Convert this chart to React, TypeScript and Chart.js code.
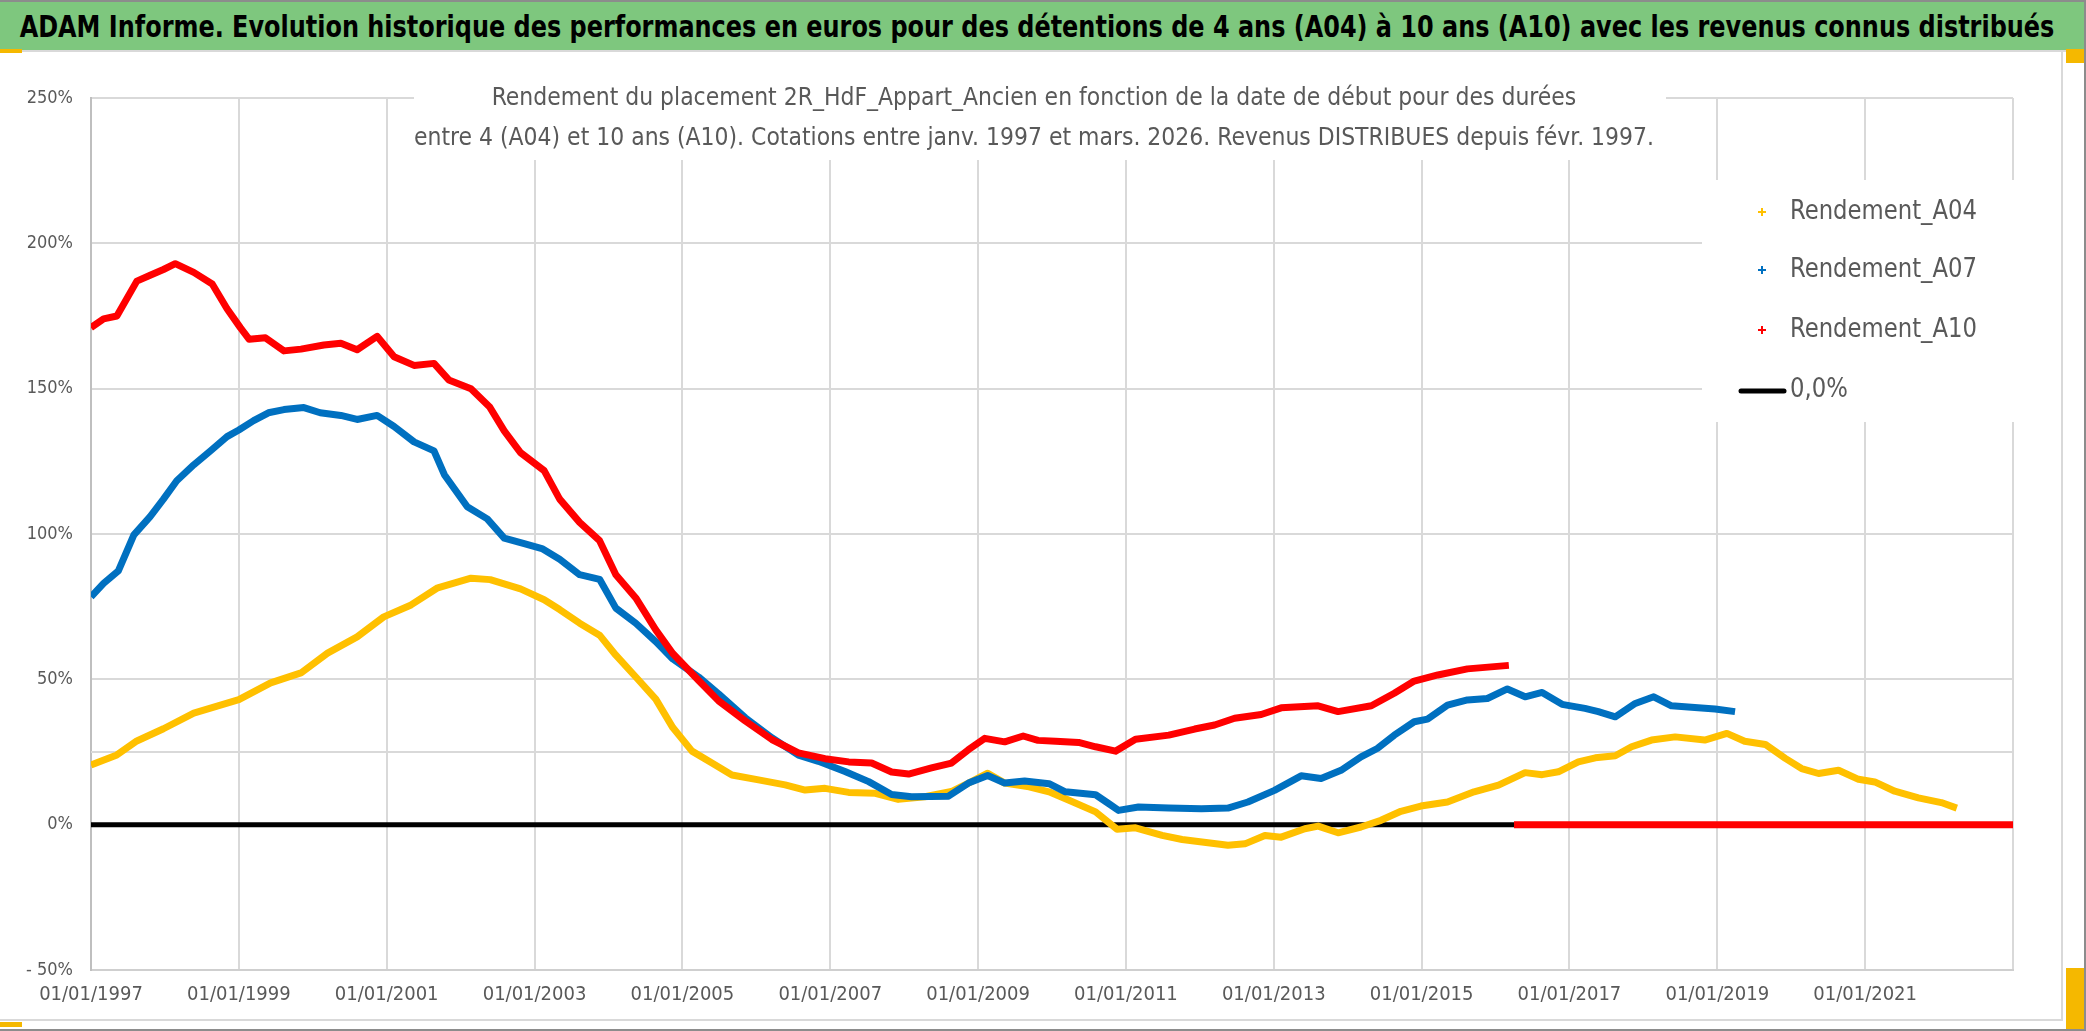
import React, { useEffect, useRef } from "react";
import { Chart, registerables } from "chart.js";

Chart.register(...registerables);

const FONT =
  "'Liberation Sans Narrow', 'DejaVu Sans Condensed', 'Liberation Sans', Arial, sans-serif";

const headerTitle =
  "ADAM Informe. Evolution historique des performances en euros pour des détentions de 4 ans (A04) à 10 ans (A10) avec les revenus connus distribués";

const chartTitleLines = [
  "Rendement du placement 2R_HdF_Appart_Ancien en fonction de la date de début pour des durées",
  "entre 4 (A04) et 10 ans (A10). Cotations entre janv. 1997 et mars. 2026. Revenus DISTRIBUES depuis févr. 1997.",
];

const seriesLabels = ["Rendement_A04", "Rendement_A07", "Rendement_A10", "0,0%"];

// Dates as decimal years (start date of the holding period)
const a04Dates = [
  1997.0, 1997.35, 1997.62, 1997.98, 1998.39, 1999.0, 1999.43, 1999.84, 2000.2, 2000.6,
  2000.96, 2001.33, 2001.69, 2002.14, 2002.4, 2002.81, 2003.13, 2003.34, 2003.61, 2003.88,
  2004.1, 2004.37, 2004.64, 2004.87, 2005.13, 2005.4, 2005.67, 2006.03, 2006.39, 2006.66,
  2006.93, 2007.25, 2007.61, 2007.92, 2008.28, 2008.64, 2008.87, 2009.13, 2009.36, 2009.69,
  2009.96, 2010.23, 2010.59, 2010.88, 2011.13, 2011.49, 2011.76, 2012.11, 2012.38, 2012.61,
  2012.88, 2013.1, 2013.42, 2013.6, 2013.87, 2014.18, 2014.45, 2014.72, 2014.99, 2015.35,
  2015.71, 2016.04, 2016.4, 2016.63, 2016.85, 2017.12, 2017.35, 2017.62, 2017.84, 2018.11,
  2018.43, 2018.83, 2019.13, 2019.37, 2019.65, 2019.92, 2020.14, 2020.37, 2020.64, 2020.91,
  2021.13, 2021.4, 2021.72, 2022.03, 2022.24,
];
const a04Values = [
  20.5, 24, 28.8, 33, 38.4, 43, 48.8, 52.2, 59, 64.6,
  71.5, 75.6, 81.5, 84.8, 84.3, 81.1, 77.4, 74, 69.3, 65.2,
  58.3, 50.8, 43.2, 33.4, 25.3, 21.2, 17.1, 15.4, 13.7, 11.9,
  12.5, 11.1, 10.8, 8.7, 9.6, 11.4, 14.3, 17.7, 14.3, 13,
  11.3, 8.4, 4.4, -1.6, -1.1, -3.7, -5.1, -6.2, -7.1, -6.6,
  -3.7, -4.3, -1.4, -0.5, -2.8, -0.8, 1.5, 4.6, 6.4, 7.8,
  11.3, 13.6, 17.9, 17.2, 18.2, 21.6, 23, 23.7, 26.8, 29.1,
  30.2, 29.1, 31.4, 28.7, 27.6, 22.8, 19.3, 17.6, 18.7, 15.6,
  14.7, 11.5, 9.2, 7.6, 5.7,
];

const a07Dates = [
  1997.0, 1997.17, 1997.37, 1997.58, 1997.8, 1997.98, 1998.16, 1998.39, 1998.62, 1998.84,
  1999.0, 1999.2, 1999.4, 1999.61, 1999.88, 2000.1, 2000.38, 2000.6, 2000.87, 2001.1,
  2001.37, 2001.64, 2001.78, 2002.09, 2002.36, 2002.59, 2002.86, 2003.1, 2003.34, 2003.61,
  2003.88, 2004.1, 2004.37, 2004.64, 2004.87, 2005.22, 2005.49, 2005.85, 2006.21, 2006.57,
  2006.84, 2007.2, 2007.52, 2007.83, 2008.1, 2008.6, 2008.87, 2009.13, 2009.36, 2009.63,
  2009.96, 2010.18, 2010.59, 2010.77, 2010.9, 2011.17, 2011.58, 2012.02, 2012.38, 2012.65,
  2013.01, 2013.37, 2013.64, 2013.91, 2014.18, 2014.4, 2014.63, 2014.9, 2015.08, 2015.35,
  2015.62, 2015.89, 2016.16, 2016.4, 2016.63, 2016.9, 2017.21, 2017.39, 2017.62, 2017.89,
  2018.14, 2018.38, 2018.74, 2018.97, 2019.24,
];
const a07Values = [
  78.4, 83, 87.3, 99.7, 106, 112, 118.3, 123.8, 128.7, 133.5,
  135.8, 139, 141.7, 142.8, 143.5, 141.7, 140.8, 139.4, 140.8, 137,
  131.7, 128.6, 120.4, 109.4, 105.2, 98.6, 96.7, 95, 91.3, 86,
  84.4, 74.5, 69.3, 63, 57, 50.8, 45, 36.8, 29.9, 23.9,
  21.8, 18.3, 14.8, 10.4, 9.6, 9.8, 14.3, 16.9, 14.3, 15,
  14.1, 11.3, 10.3, 7.2, 4.9, 6.1, 5.7, 5.5, 5.7, 7.8,
  11.8, 16.8, 15.9, 18.7, 23.3, 26.2, 30.8, 35.4, 36.3, 41.1,
  42.9, 43.4, 46.7, 44, 45.5, 41.4, 40, 38.9, 37.1, 41.7,
  44, 40.9, 40.2, 39.8, 38.9,
];

// After 2016.2 no 10-year result exists; the source plots those dates at 0
const a10Dates = [
  1997.0, 1997.17, 1997.35, 1997.62, 1997.8, 1997.98, 1998.14, 1998.39, 1998.64, 1998.84,
  1999.02, 1999.14, 1999.36, 1999.61, 1999.84, 2000.15, 2000.38, 2000.6, 2000.87, 2001.1,
  2001.37, 2001.64, 2001.84, 2002.14, 2002.39, 2002.59, 2002.81, 2003.13, 2003.34, 2003.61,
  2003.88, 2004.1, 2004.37, 2004.64, 2004.87, 2005.22, 2005.49, 2005.85, 2006.21, 2006.57,
  2006.93, 2007.25, 2007.56, 2007.83, 2008.06, 2008.37, 2008.64, 2008.87, 2009.09, 2009.36,
  2009.61, 2009.81, 2010.05, 2010.36, 2010.59, 2010.86, 2011.13, 2011.58, 2011.93, 2012.2,
  2012.47, 2012.83, 2013.1, 2013.6, 2013.87, 2014.32, 2014.63, 2014.9, 2015.22, 2015.62,
  2016.18, 2016.21, 2016.25, 2023.0,
];
const a10Values = [
  171, 174, 175, 187, 189, 191, 193, 190, 186, 177.5,
  171, 167, 167.5, 163, 163.6, 165, 165.6, 163.4, 168, 161,
  158, 158.7, 153, 150, 143.8, 135.5, 128, 121.8, 112, 104,
  97.7, 86, 78, 67, 58.9, 49.6, 42.6, 35.7, 29.3, 24.7,
  22.7, 21.6, 21.2, 18.1, 17.4, 19.5, 21.2, 25.8, 29.7, 28.5,
  30.5, 29, 28.7, 28.3, 26.8, 25.3, 29.4, 30.8, 32.9, 34.3,
  36.6, 37.9, 40.2, 40.9, 38.9, 40.9, 45.2, 49.4, 51.5, 53.6,
  54.8, null, 0, 0,
];

const zeroDates = [1997.0, 2023.0];
const zeroValues = [0, 0];

const ref25Dates = [1997.0, 2023.0];
const ref25Values = [25, 25];

const xTickYears = [1997, 1999, 2001, 2003, 2005, 2007, 2009, 2011, 2013, 2015, 2017, 2019, 2021];
const xTickLabels = [
  "01/01/1997", "01/01/1999", "01/01/2001", "01/01/2003", "01/01/2005", "01/01/2007",
  "01/01/2009", "01/01/2011", "01/01/2013", "01/01/2015", "01/01/2017", "01/01/2019",
  "01/01/2021",
];
const yTickValues = [-50, 0, 50, 100, 150, 200, 250];
const yTickLabels = ["- 50%", "0%", "50%", "100%", "150%", "200%", "250%"];

const toPoints = (xs: number[], ys: (number | null)[]) =>
  xs.map((x, i) => ({ x, y: ys[i] }));

const GRAY_TEXT = "#595959";
const GRID = "#D9D9D9";

const overlayPlugin = {
  id: "overlayTitleLegend",
  afterDraw(chart: any) {
    const ctx: CanvasRenderingContext2D = chart.ctx;
    ctx.save();

    // Chart title box (overlays the plot area)
    ctx.fillStyle = "#ffffff";
    ctx.fillRect(414, 38, 1252, 70);
    ctx.font = `25px ${FONT}`;
    const wRef = ctx.measureText(chartTitleLines[1]).width;
    const sx = 1240 / wRef;
    ctx.fillStyle = GRAY_TEXT;
    ctx.textAlign = "center";
    ctx.textBaseline = "middle";
    const titleYs = [46, 86];
    chartTitleLines.forEach((line, i) => {
      ctx.save();
      ctx.translate(1034, titleYs[i]);
      ctx.scale(sx, 1);
      ctx.fillText(line, 0, 0);
      ctx.restore();
    });

    // Legend box
    ctx.fillStyle = "#ffffff";
    ctx.fillRect(1702, 128, 312, 242);
    ctx.font = `26px ${FONT}`;
    const wL = ctx.measureText(seriesLabels[0]).width;
    const sl = 187 / wL;
    const rowYs = [160, 218, 278, 338];
    const ds = chart.data.datasets;
    for (let i = 0; i < 4; i++) {
      const d = ds[i];
      const y = rowYs[i];
      ctx.strokeStyle = d.borderColor;
      if (d.legendMarker === "cross") {
        ctx.lineWidth = 2;
        ctx.lineCap = "butt";
        ctx.beginPath();
        ctx.moveTo(1758, y);
        ctx.lineTo(1766, y);
        ctx.moveTo(1762, y - 4);
        ctx.lineTo(1762, y + 4);
        ctx.stroke();
      } else {
        ctx.lineWidth = 5;
        ctx.lineCap = "round";
        ctx.beginPath();
        ctx.moveTo(1741, y + 1);
        ctx.lineTo(1784, y + 1);
        ctx.stroke();
      }
      ctx.fillStyle = GRAY_TEXT;
      ctx.textAlign = "left";
      ctx.textBaseline = "middle";
      ctx.save();
      ctx.translate(1790, y);
      ctx.scale(sl, 1);
      ctx.fillText(d.label, 0, 0);
      ctx.restore();
    }
    ctx.restore();
  },
};

export default function App() {
  const canvasRef = useRef<HTMLCanvasElement | null>(null);
  const titleRef = useRef<HTMLSpanElement | null>(null);

  useEffect(() => {
    document.body.style.margin = "0";
    const span = titleRef.current;
    if (span) {
      const w = span.offsetWidth;
      const k = w > 0 ? 2035 / w : 1;
      span.style.transform = `translate(-50%, -50%) scaleX(${k})`;
    }
    const canvas = canvasRef.current;
    if (!canvas) return;
    Chart.defaults.font.family = FONT;
    const chart = new Chart(canvas, {
      type: "line",
      data: {
        datasets: [
          {
            label: seriesLabels[0],
            data: toPoints(a04Dates, a04Values),
            borderColor: "#FFC000",
            backgroundColor: "#FFC000",
            borderWidth: 7,
            pointRadius: 0,
            tension: 0,
            borderJoinStyle: "round",
            order: 2,
            legendMarker: "cross",
          } as any,
          {
            label: seriesLabels[1],
            data: toPoints(a07Dates, a07Values),
            borderColor: "#0070C0",
            backgroundColor: "#0070C0",
            borderWidth: 7,
            pointRadius: 0,
            tension: 0,
            borderJoinStyle: "round",
            order: 1,
            legendMarker: "cross",
          } as any,
          {
            label: seriesLabels[2],
            data: toPoints(a10Dates, a10Values),
            borderColor: "#FF0000",
            backgroundColor: "#FF0000",
            borderWidth: 7,
            pointRadius: 0,
            tension: 0,
            spanGaps: false,
            borderJoinStyle: "round",
            order: 0,
            legendMarker: "cross",
          } as any,
          {
            label: seriesLabels[3],
            data: toPoints(zeroDates, zeroValues),
            borderColor: "#000000",
            backgroundColor: "#000000",
            borderWidth: 5,
            pointRadius: 0,
            borderCapStyle: "round",
            order: 3,
            legendMarker: "line",
          } as any,
          {
            label: "",
            data: toPoints(ref25Dates, ref25Values),
            borderColor: GRID,
            borderWidth: 2,
            pointRadius: 0,
            order: 4,
          } as any,
        ],
      },
      options: {
        animation: false,
        responsive: false,
        maintainAspectRatio: false,
        devicePixelRatio: 1,
        layout: { padding: { top: 46, right: 48, left: 0, bottom: 0 } },
        plugins: {
          legend: { display: false },
          title: { display: false },
          tooltip: { enabled: false },
        },
        scales: {
          x: {
            type: "linear",
            min: 1997,
            max: 2023,
            afterFit: (s: any) => {
              s.height = 49;
            },
            ticks: {
              stepSize: 2,
              autoSkip: false,
              maxRotation: 0,
              padding: 13,
              color: GRAY_TEXT,
              font: { size: 20, family: FONT },
              callback: (value: any) => {
                const i = xTickYears.indexOf(Math.round(Number(value)));
                return i >= 0 ? xTickLabels[i] : "";
              },
            },
            grid: { color: GRID, lineWidth: 2, drawTicks: false },
            border: { display: true, color: "#CFCFCF", width: 2 },
          },
          y: {
            type: "linear",
            min: -50,
            max: 250,
            afterFit: (s: any) => {
              s.width = 91;
            },
            ticks: {
              stepSize: 50,
              padding: 18,
              color: GRAY_TEXT,
              font: { size: 18, family: FONT },
              callback: (value: any) => {
                const i = yTickValues.indexOf(Math.round(Number(value)));
                return i >= 0 ? yTickLabels[i] : "";
              },
            },
            grid: { color: GRID, lineWidth: 2, drawTicks: false },
            border: { display: true, color: "#BFBFBF", width: 2 },
          },
        },
      },
      plugins: [overlayPlugin],
    });
    return () => chart.destroy();
  }, []);

  return (
    <div
      style={{
        position: "absolute",
        left: 0,
        top: 0,
        width: 2086,
        height: 1031,
        background: "#ffffff",
        overflow: "hidden",
        fontFamily: FONT,
      }}
    >
      <div
        style={{
          position: "absolute",
          left: 0,
          top: 0,
          width: 2084,
          height: 48,
          background: "#7EC77E",
          borderTop: "2px solid #8C8C8C",
        }}
      >
        <span
          ref={titleRef}
          style={{
            position: "absolute",
            left: 1037,
            top: 25,
            transform: "translate(-50%, -50%)",
            whiteSpace: "nowrap",
            fontWeight: 700,
            fontSize: 30,
            lineHeight: "36px",
            color: "#000000",
            fontFamily: FONT,
          }}
        >
          {headerTitle}
        </span>
      </div>
      <div
        style={{
          position: "absolute",
          left: 0,
          top: 50,
          width: 2086,
          height: 2,
          background: "#D9D9D9",
        }}
      />
      <div
        style={{
          position: "absolute",
          left: 0,
          top: 52,
          width: 2061,
          height: 967,
          borderRight: "2px solid #D9D9D9",
          borderBottom: "2px solid #D9D9D9",
        }}
      />
      <canvas
        ref={canvasRef}
        width={2061}
        height={967}
        style={{ position: "absolute", left: 0, top: 52, width: 2061, height: 967 }}
      />
      <div style={{ position: "absolute", left: 2084, top: 0, width: 2, height: 1031, background: "#8C8C8C" }} />
      <div style={{ position: "absolute", left: 0, top: 1029, width: 2086, height: 2, background: "#8C8C8C" }} />
      <div style={{ position: "absolute", left: 0, top: 49, width: 22, height: 4, background: "#F5B800" }} />
      <div style={{ position: "absolute", left: 0, top: 1022, width: 22, height: 5, background: "#F5B800" }} />
      <div style={{ position: "absolute", left: 2066, top: 49, width: 18, height: 14, background: "#F5B800" }} />
      <div style={{ position: "absolute", left: 2066, top: 968, width: 18, height: 61, background: "#F5B800" }} />
    </div>
  );
}
